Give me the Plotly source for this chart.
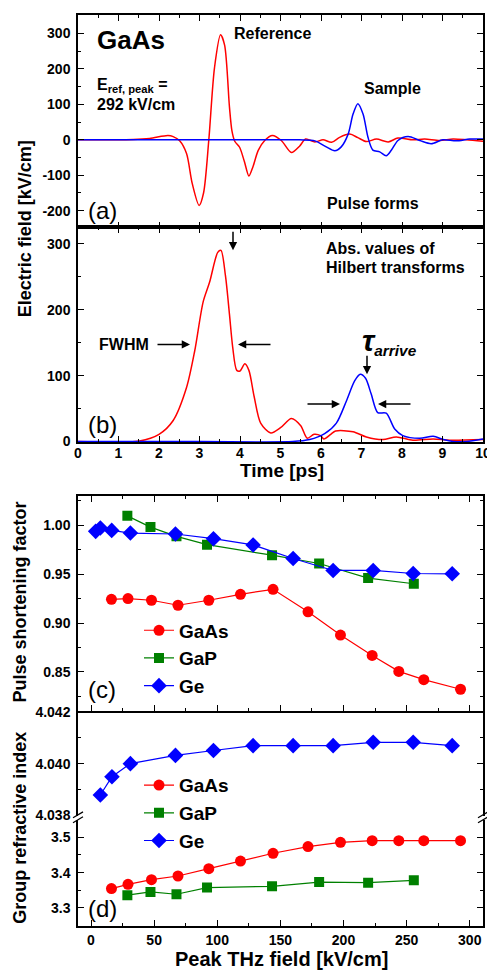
import plotly.graph_objects as go

# ---------------- data ----------------
# Panel (a): pulse forms
t_ref_a = [0, 1.36, 1.77, 2.22, 2.35, 2.51, 2.68, 2.82, 2.99, 3.10, 3.23, 3.37, 3.52, 3.62, 3.74, 3.80, 3.87, 3.99,
           4.11, 4.22, 4.32, 4.45, 4.61, 4.80, 5.02, 5.27, 5.47, 5.62, 5.85, 6.05, 6.26, 6.46, 6.71, 6.91, 7.12,
           7.37, 7.66, 7.90, 8.27, 8.56, 8.93, 9.26, 9.59, 10.0]
e_ref_a = [0, 1, 4, 12, 9, -3, -39, -123, -185, -150, 0, 203, 296, 267, 92, 26, -4, -21,
           -62, -102, -76, -30, -2, 12, -2, -36, -18, 2, -6, 0, -7, 7, 16, 6, -5,
           2, -6, 5, 0, 2, -2, 2, 0, -4]
t_smp_a = [0, 2.0, 4.0, 5.47, 5.85, 6.13, 6.34, 6.50, 6.67, 6.79, 6.91, 7.04, 7.16, 7.28, 7.45, 7.61, 7.74, 7.90,
           8.15, 8.44, 8.72, 9.01, 9.34, 9.67, 10.0]
e_smp_a = [0, 0, 0, 0, -3, -20, -31, -20, 16, 72, 102, 72, 7, -29, -34, -45, -29, -2,
           9, -2, -11, 0, -3, 2, 2]

# Panel (b): abs. values of Hilbert transforms
t_ref_b = [0, 1.52, 2.0, 2.35, 2.68, 2.88, 3.09, 3.25, 3.45, 3.53, 3.64, 3.74, 3.82, 3.92, 4.0, 4.12, 4.22, 4.35,
           4.51, 4.76, 5.0, 5.27, 5.5, 5.66, 5.83, 5.99, 6.07, 6.24, 6.36, 6.79, 7.12, 7.53, 7.86, 8.27, 8.77,
           9.18, 10.0]
e_ref_b = [0, 1, 11, 32, 82, 137, 212, 242, 287, 290, 252, 193, 143, 108, 107, 118, 108, 68,
           28, 13, 21, 35, 24, 5, 11, 9, 4, 11, 16, 15, 7, 3, 7, 2, 4,
           2, 3]
t_smp_b = [0, 3.0, 5.3, 5.72, 6.09, 6.38, 6.63, 6.83, 6.97, 7.10, 7.24, 7.40, 7.61, 7.82, 8.02, 8.44, 8.77, 9.02,
           9.26, 9.59, 10.0]
e_smp_b = [0, 0, 0, 3, 12, 28, 62, 92, 102, 96, 72, 44, 43, 19, 9, 5, 8, 3,
           0, 0, 4]

# Panel (c): pulse shortening factor vs peak THz field
f_gaas = [16.2, 29.3, 47.9, 68.9, 93.3, 118.4, 144.2, 171.9, 197.6, 222.7, 243.8, 263.6, 292.7]
psf_gaas = [0.9244, 0.9251, 0.9234, 0.9183, 0.9234, 0.9295, 0.9346, 0.9116, 0.8878, 0.8669, 0.8506, 0.8421, 0.8323]
f_gap = [28.8, 47.1, 67.7, 91.9, 143.4, 180.7, 219.5, 255.7]
psf_gap = [1.0098, 0.9983, 0.9888, 0.9803, 0.9695, 0.9610, 0.9461, 0.9403]
f_ge_c = [3.7, 7.4, 16.4, 31.2, 66.9, 97.0, 128.4, 160.1, 191.8, 223.5, 255.2, 286.1]
psf_ge = [0.9939, 0.9973, 0.9949, 0.9922, 0.9912, 0.9864, 0.9800, 0.9661, 0.9539, 0.9539, 0.9508, 0.9505]

# Panel (d): group refractive index
ng_gaas = [3.3546, 3.3668, 3.3800, 3.3904, 3.4113, 3.4327, 3.4549, 3.4738, 3.4859, 3.4907, 3.4907, 3.4907, 3.4907]
ng_gap = [3.3358, 3.3451, 3.3386, 3.3575, 3.3611, 3.3732, 3.3715, 3.3780]
f_ge_d = [7.4, 16.6, 31.2, 66.9, 97.0, 128.4, 160.1, 191.8, 223.5, 255.2, 286.1]
ng_ge = [4.03878, 4.03949, 4.04000, 4.04032, 4.04051, 4.04070, 4.04070, 4.04070, 4.04083, 4.04083, 4.04070]

materials = ["GaAs", "GaP", "Ge"]

# tick values / labels
ya_vals = [-200, -100, 0, 100, 200, 300]
ya_text = ["-200", "-100", "0", "100", "200", "300"]

# ---------------- styling ----------------
RED, GREEN, BLUE = "#FF0000", "#008000", "#0000FF"
FONT = "Liberation Sans, Arial, Helvetica, sans-serif"
OFF = 8                      # page body margin of the browser
W, H = 495 - OFF, 973 - OFF
ML, MR, MT, MB = 78 - OFF, 12, 0, 47
PW, PH = W - ML - MR, H - MT - MB


def PX(x):  # reference-image pixel x -> paper fraction
    return (x - OFF - ML) / PW


def PY(y):  # reference-image pixel y -> paper fraction
    return (MT + PH - (y - OFF)) / PH


fig = go.Figure()

# panel a
fig.add_trace(go.Scatter(x=t_ref_a, y=e_ref_a, mode="lines", line=dict(color=RED, width=1.5, shape="spline", smoothing=0.8),
                         xaxis="x", yaxis="y", showlegend=False))
fig.add_trace(go.Scatter(x=t_smp_a, y=e_smp_a, mode="lines", line=dict(color=BLUE, width=1.5, shape="spline", smoothing=0.8),
                         xaxis="x", yaxis="y", showlegend=False))
# panel b
fig.add_trace(go.Scatter(x=t_ref_b, y=e_ref_b, mode="lines", line=dict(color=RED, width=1.5, shape="spline", smoothing=0.8),
                         xaxis="x2", yaxis="y2", showlegend=False))
fig.add_trace(go.Scatter(x=t_smp_b, y=e_smp_b, mode="lines", line=dict(color=BLUE, width=1.5, shape="spline", smoothing=0.8),
                         xaxis="x2", yaxis="y2", showlegend=False))

# panel c
for name, xs, ys, col, sym, sz in [(materials[0], f_gaas, psf_gaas, RED, "circle", 11),
                                    (materials[1], f_gap, psf_gap, GREEN, "square", 10),
                                    (materials[2], f_ge_c, psf_ge, BLUE, "diamond", 12)]:
    fig.add_trace(go.Scatter(x=xs, y=ys, mode="lines+markers", name=name,
                             line=dict(color=col, width=1.2), marker=dict(symbol=sym, size=sz, color=col),
                             xaxis="x3", yaxis="y3", legend="legend"))

# panel d
fig.add_trace(go.Scatter(x=f_gaas, y=ng_gaas, mode="lines+markers", name=materials[0],
                         line=dict(color=RED, width=1.2), marker=dict(symbol="circle", size=11, color=RED),
                         xaxis="x4", yaxis="y5", legend="legend2"))
fig.add_trace(go.Scatter(x=f_gap, y=ng_gap, mode="lines+markers", name=materials[1],
                         line=dict(color=GREEN, width=1.2), marker=dict(symbol="square", size=10, color=GREEN),
                         xaxis="x4", yaxis="y5", legend="legend2"))
fig.add_trace(go.Scatter(x=f_ge_d, y=ng_ge, mode="lines+markers", name=materials[2],
                         line=dict(color=BLUE, width=1.2), marker=dict(symbol="diamond", size=12, color=BLUE),
                         xaxis="x4", yaxis="y4", legend="legend2"))

tickfont = dict(family=FONT, size=14, color="black", weight="bold")
common = dict(showline=True, linecolor="black", linewidth=1.5, ticks="inside", ticklen=6, tickwidth=1.2,
              tickcolor="black", showgrid=False, zeroline=False, tickfont=tickfont)


def dom(ytop, ybot):
    return [max(0.0, PY(ybot)), min(1.0, PY(ytop))]


d_a = dom(6, 222)
d_b = dom(222, 438.5)
d_c = dom(493, 709)
d_du = dom(709, 815)
d_dl = dom(819, 926)

mk = lambda dt, **kw: dict(dtick=dt, ticklen=3, ticks="inside", tickcolor="black", **kw)

fig.update_layout(
    width=W, height=H, margin=dict(l=ML, r=MR, t=MT, b=MB, pad=0),
    paper_bgcolor="white", plot_bgcolor="white",
    font=dict(family=FONT, color="black"),
    xaxis=dict(common, domain=[0, 1], anchor="y", range=[0, 10], dtick=1, mirror="allticks", showticklabels=False,
               minor=mk(0.5)),
    yaxis=dict(common, domain=d_a, anchor="x", range=[-247, 352], tickvals=ya_vals, ticktext=ya_text,
               mirror="allticks", minor=mk(50), ticklabelstandoff=3),
    xaxis2=dict(common, domain=[0, 1], anchor="y2", range=[0, 10], dtick=1, mirror="allticks",
                minor=mk(0.5), ticklabelstandoff=-3),
    yaxis2=dict(common, domain=d_b, anchor="x2", range=[-1, 325], tickvals=[0, 100, 200, 300],
                mirror="allticks", minor=mk(50), ticklabelstandoff=3),
    xaxis3=dict(common, domain=[0, 1], anchor="y3", range=[-10.3, 310.5], dtick=50, mirror="allticks",
                showticklabels=False, minor=mk(25)),
    yaxis3=dict(common, domain=d_c, anchor="x3", range=[0.8104, 1.0298], tickvals=[0.85, 0.90, 0.95, 1.00],
                tickformat=".2f", mirror="allticks", minor=mk(0.025, tick0=0.825), ticklabelstandoff=3),
    xaxis4=dict(common, domain=[0, 1], anchor="y5", range=[-10.3, 310.5], dtick=50, mirror=False,
                minor=mk(25)),
    yaxis4=dict(common, domain=d_du, anchor="x4", range=[4.03797, 4.04206], tickvals=[4.038, 4.040, 4.042],
                tickformat=".3f", mirror="allticks", minor=mk(0.001, tick0=4.037), ticklabelstandoff=3),
    yaxis5=dict(common, domain=d_dl, anchor="x4", range=[3.2484, 3.5499], tickvals=[3.3, 3.4, 3.5],
                tickformat=".1f", mirror="allticks", minor=mk(0.05, tick0=3.25), ticklabelstandoff=3),
    legend=dict(x=PX(139), y=PY(609), xanchor="left", yanchor="top", bgcolor="rgba(0,0,0,0)",
                font=dict(family=FONT, size=19, weight="bold"), tracegroupgap=0, itemwidth=30),
    legend2=dict(x=PX(139), y=PY(765), xanchor="left", yanchor="top", bgcolor="rgba(0,0,0,0)",
                 font=dict(family=FONT, size=19, weight="bold"), tracegroupgap=0, itemwidth=30),
)

ann = []


def text(x, y, s, size=16, bold=True, xanchor="left", angle=0):
    ann.append(dict(x=x, y=y, xref="paper", yref="paper", text=s, showarrow=False, xanchor=xanchor,
                    yanchor="middle", textangle=angle,
                    font=dict(family=FONT, size=size, color="black", weight="bold" if bold else "normal")))


def arrow(hx, hy, ax, ay):
    ann.append(dict(x=PX(hx), y=PY(hy), xref="paper", yref="paper", ax=ax, ay=ay, text="", showarrow=True,
                    arrowhead=2, arrowsize=1.1, arrowwidth=1.5, arrowcolor="black"))


# panel (a)
text(PX(95), PY(33), "GaAs", size=26)
text(PX(232), PY(27), "Reference", size=16)
text(PX(95), PY(79), "E<sub>ref, peak</sub> =", size=16)
text(PX(95), PY(98), "292 kV/cm", size=16)
text(PX(362), PY(82), "Sample", size=16)
text(PX(325), PY(198), "Pulse forms", size=16)
text(PX(86), PY(205), "(a)", size=24, bold=False)
# panel (b)
text(PX(324), PY(243), "Abs. values of", size=16)
text(PX(324), PY(262), "Hilbert transforms", size=16)
text(PX(97), PY(340), "FWHM", size=16)
text(PX(86), PY(421), "(b)", size=24, bold=False)
text(PX(360), PY(337), "<i><span style='font-size:30px'>τ</span><sub>arrive</sub></i>", size=22)
arrow(190, 340, -34, 0)
arrow(238, 340, 34, 0)
arrow(340, 400, -34, 0)
arrow(378, 400, 34, 0)
arrow(233, 245, 0, -20)
arrow(367, 370, 0, -20)
# panels (c),(d)
text(PX(86), PY(688), "(c)", size=24, bold=False)
text(PX(86), PY(908), "(d)", size=24, bold=False)
# axis titles
text(PX(25), PY(224), "Electric field [kV/cm]", size=18, xanchor="center", angle=-90)
text(PX(282), PY(467), "Time [ps]", size=19, xanchor="center")
text(PX(20), PY(600), "Pulse shortening factor", size=18, xanchor="center", angle=-90)
text(PX(20), PY(827), "Group refractive index", size=18, xanchor="center", angle=-90)
text(PX(281), PY(959), "Peak THz field [kV/cm]", size=20, xanchor="center")

fig.update_layout(annotations=ann)

# axis-break marks
shapes = []
for bx in (78, 483):
    for dy in (0, 5):
        shapes.append(dict(type="line", xref="paper", yref="paper", x0=PX(bx - 5), y0=PY(817 + dy),
                           x1=PX(bx + 5), y1=PY(811 + dy), line=dict(color="black", width=1.2)))
fig.update_layout(shapes=shapes)

fig.write_html("out.html")
